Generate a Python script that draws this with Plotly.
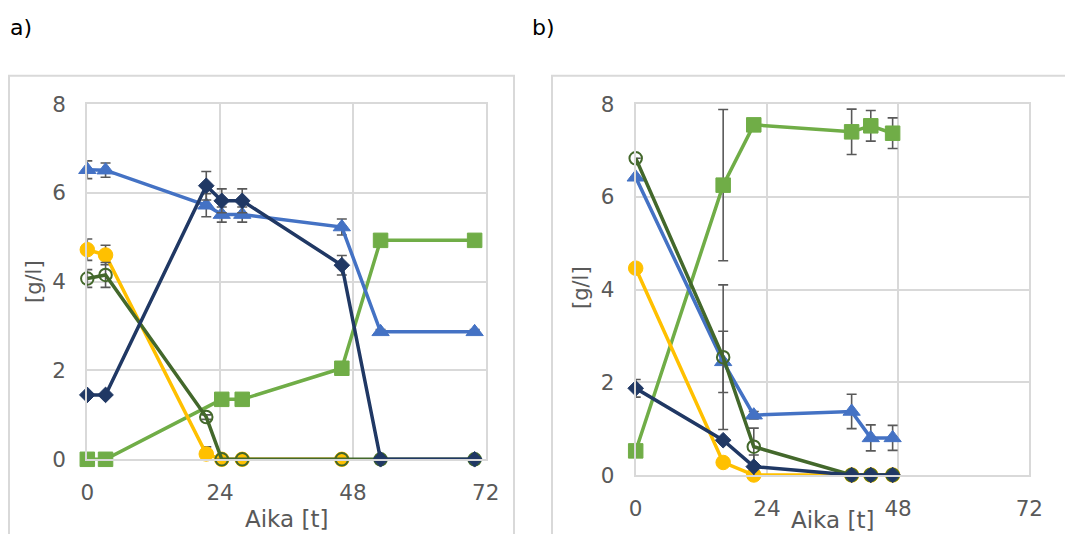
import plotly.graph_objects as go

# ---- data: panel a ----
t_a = [0, 3.3, 21.5, 24.3, 28, 46, 53, 70]
t_a_sq = [0, 3.3, 24.3, 28, 46, 53, 70]
t_a_yel = [0, 3.3, 21.5, 24.3, 28, 46]

sq_a = [0, 0, 1.35, 1.35, 2.05, 4.93, 4.93]
tri_a = [6.52, 6.51, 5.72, 5.51, 5.51, 5.23, 2.87, 2.87]
tri_a_err = [0.2, 0.16, 0.26, 0.17, 0.17, 0.18, 0.05, 0.05]
yel_a = [4.72, 4.6, 0.12, 0, 0, 0]
yel_a_err = [0.24, 0.22, 0.16, 0, 0, 0]
ring_a = [4.07, 4.15, 0.95, 0, 0, 0, 0, 0]
ring_a_err = [0.2, 0.28, 0.05, 0, 0, 0, 0, 0]
dia_a = [1.45, 1.45, 6.16, 5.82, 5.82, 4.37, 0, 0]
dia_a_err = [0.03, 0.03, 0.32, 0.27, 0.27, 0.22, 0, 0]

# ---- data: panel b ----
t_b = [0, 16, 21.6, 39.5, 43, 47]

sq_b = [0.52, 6.25, 7.55, 7.4, 7.53, 7.37]
sq_b_err = [0, 1.63, 0, 0.49, 0.33, 0.33]
tri_b = [6.42, 2.44, 1.29, 1.37, 0.8, 0.8]
tri_b_err = [0, 0.66, 0.08, 0.37, 0.28, 0.27]
yel_b = [4.46, 0.27, 0, 0, 0, 0]
ring_b = [6.83, 2.54, 0.61, 0, 0, 0]
ring_b_err = [0, 1.56, 0.4, 0, 0, 0]
dia_b = [1.87, 0.75, 0.18, 0, 0, 0]
dia_b_err = [0.19, 0, 0.25, 0, 0, 0]

x_ticks = [0, 24, 48, 72]
y_ticks = [0, 2, 4, 6, 8]

C_SQ = "#70AD47"
C_TRI = "#4472C4"
C_YEL = "#FFC000"
C_RING = "#43682B"
C_DIA = "#203864"
C_ERR = "#595959"
C_GRID = "#D9D9D9"
C_TXT = "#595959"
FONT = "DejaVu Sans, Verdana, sans-serif"

W, H = 1065, 534

fig = go.Figure()


def err(vals):
    if vals is None:
        return None
    return dict(type="data", array=vals, visible=True, color=C_ERR,
                thickness=1.6, width=5)


def add(x, y, e, color, symbol, size, xa, ya, fill=None, lw=1):
    fig.add_trace(go.Scatter(
        x=x, y=y, mode="lines+markers", xaxis=xa, yaxis=ya,
        line=dict(color=color, width=3.5),
        marker=dict(symbol=symbol, size=size,
                    color=fill if fill is not None else color,
                    line=dict(color=color, width=lw)),
        error_y=err(e), cliponaxis=False, showlegend=False,
    ))


# panel a
add(t_a_sq, sq_a, None, C_SQ, "square", 14.5, "x", "y")
add(t_a, tri_a, tri_a_err, C_TRI, "triangle-up", 15, "x", "y")
add(t_a_yel, yel_a, yel_a_err, C_YEL, "circle", 14.5, "x", "y")
add(t_a, ring_a, ring_a_err, C_RING, "circle-open", 12.5, "x", "y", lw=2)
add(t_a, dia_a, dia_a_err, C_DIA, "diamond", 12, "x", "y")

# panel b
add(t_b, sq_b, sq_b_err, C_SQ, "square", 14.5, "x2", "y2")
add(t_b, tri_b, tri_b_err, C_TRI, "triangle-up", 15, "x2", "y2")
add(t_b, yel_b, None, C_YEL, "circle", 14.5, "x2", "y2")
add(t_b, ring_b, ring_b_err, C_RING, "circle-open", 12.5, "x2", "y2", lw=2)
add(t_b, dia_b, dia_b_err, C_DIA, "diamond", 12, "x2", "y2")

xax = dict(range=[0, 72], tickvals=x_ticks, showgrid=True, gridcolor=C_GRID,
           gridwidth=2, zeroline=False, showline=True, mirror=True,
           linecolor=C_GRID, linewidth=2, ticks="outside", ticklen=13,
           tickcolor="rgba(0,0,0,0)", automargin=False,
           tickfont=dict(family=FONT, size=21.5, color=C_TXT))
yax = dict(range=[0, 8], tickvals=y_ticks, showgrid=True, gridcolor=C_GRID,
           gridwidth=2, zeroline=False, showline=True, mirror=True,
           linecolor=C_GRID, linewidth=2, ticks="outside", ticklen=15,
           tickcolor="rgba(0,0,0,0)", automargin=False,
           tickfont=dict(family=FONT, size=21.5, color=C_TXT))


def px_x(p):
    return p / W


def px_y(p):
    return (H - p) / H


fig.update_layout(
    width=W, height=H, autosize=False,
    margin=dict(l=0, r=0, t=0, b=0, pad=0, autoexpand=False),
    paper_bgcolor="white", plot_bgcolor="white",
    xaxis=dict(xax, domain=[px_x(87.3), px_x(485.7)], anchor="y"),
    yaxis=dict(yax, domain=[px_y(459.3), px_y(104)], anchor="x"),
    xaxis2=dict(xax, domain=[px_x(635.7), px_x(1029.3)], anchor="y2"),
    yaxis2=dict(yax, domain=[px_y(475), px_y(104)], anchor="x2"),
)

# chart-area frames
for x0, x1 in [(9, 514), (552, 1100)]:
    fig.add_shape(type="rect", xref="paper", yref="paper",
                  x0=px_x(x0), x1=px_x(x1), y0=px_y(600), y1=px_y(75.7),
                  line=dict(color=C_GRID, width=2), fillcolor="rgba(0,0,0,0)",
                  layer="below")


def label(text, x, y, size, color, angle=0):
    fig.add_annotation(text=text, xref="paper", yref="paper",
                       x=px_x(x), y=px_y(y), showarrow=False,
                       xanchor="center", yanchor="middle", textangle=angle,
                       font=dict(family=FONT, size=size, color=color))


label("a)", 21, 27, 22, "#000000")
label("b)", 543, 27, 22, "#000000")
label("Aika [t]", 286.5, 519, 23, C_TXT)
label("Aika [t]", 832.5, 520, 23, C_TXT)
label("[g/l]", 34, 282, 21, C_TXT, -90)
label("[g/l]", 581, 288, 21, C_TXT, -90)

fig.write_html("out.html")
